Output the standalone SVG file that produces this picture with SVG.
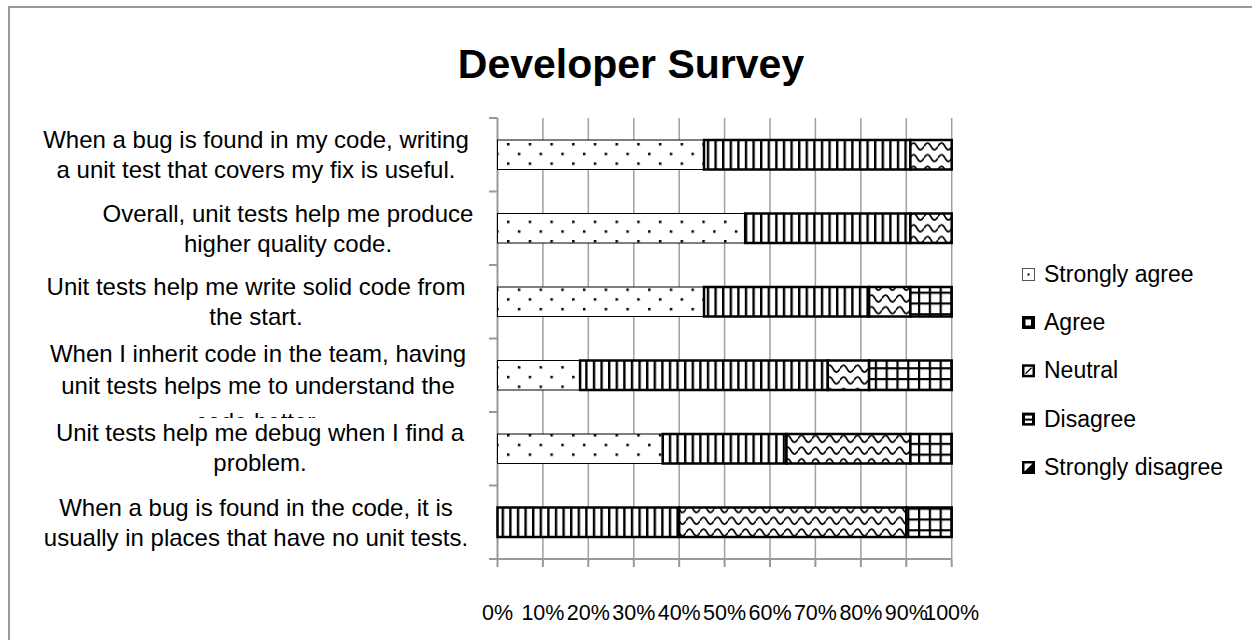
<svg xmlns="http://www.w3.org/2000/svg" width="1252" height="640" viewBox="0 0 1252 640">
<style>
  .lbl{font-family:"Liberation Sans",Arial,sans-serif;font-size:24px;fill:#000;text-anchor:middle}
  .tick{font-family:"Liberation Sans",Arial,sans-serif;font-size:21.5px;fill:#000;text-anchor:middle}
  .leg{font-family:"Liberation Sans",Arial,sans-serif;font-size:23px;fill:#000}
  .title{font-family:"Liberation Sans",Arial,sans-serif;font-size:41px;font-weight:bold;fill:#000;text-anchor:middle}
  .grid{stroke:#a0a0a0;stroke-width:1.5;fill:none}
  .axis{stroke:#999;stroke-width:2;fill:none}
  .sa{fill:url(#pSA);stroke:#000;stroke-width:1}
  .ag{fill:url(#pA);stroke:#000;stroke-width:2.5}
  .ne{fill:url(#pN);stroke:#000;stroke-width:2.5}
  .di{fill:url(#pD);stroke:#000;stroke-width:2.5}
</style>
<defs>
  <pattern id="pSA" patternUnits="userSpaceOnUse" x="507" y="143" width="21.7" height="19.4">
    <rect width="21.7" height="19.4" fill="#fff"/>
    <rect x="0" y="0" width="2.5" height="2.5" fill="#000"/>
    <rect x="10.85" y="9.7" width="2.5" height="2.5" fill="#000"/>
  </pattern>
  <pattern id="pA" patternUnits="userSpaceOnUse" x="0" y="0" width="7.6" height="10">
    <rect width="7.6" height="10" fill="#fff"/>
    <rect x="0" y="0" width="2.4" height="10" fill="#000"/>
  </pattern>
  <pattern id="pN" patternUnits="userSpaceOnUse" x="0" y="1.5" width="14" height="11.7">
    <rect width="14" height="11.7" fill="#fff"/>
    <path d="M0,4.5 C2.3,0 4.7,0 7,4.5 S11.7,9 14,4.5" fill="none" stroke="#000" stroke-width="1.7"/>
  </pattern>
  <pattern id="pD" patternUnits="userSpaceOnUse" x="0" y="0" width="10.8" height="10.8">
    <rect width="10.8" height="10.8" fill="#fff"/>
    <rect x="0" y="0" width="10.8" height="2.2" fill="#000"/>
    <rect x="0" y="0" width="2.2" height="10.8" fill="#000"/>
  </pattern>
  <clipPath id="clipRow4">
    <rect x="0" y="330" width="490" height="88"/>
  </clipPath>
</defs>

<rect x="0" y="0" width="1252" height="640" fill="#fff"/>
<rect id="chart-frame" x="9" y="7" width="1300" height="700" fill="#fff" stroke="#999" stroke-width="2"/>

<text class="title" x="631" y="78">Developer Survey</text>

<g id="gridlines">
  <path class="grid" d="M542.9,118V559M588.3,118V559M633.8,118V559M679.2,118V559M724.6,118V559M770,118V559M815.4,118V559M860.9,118V559M906.3,118V559M951.7,118V559"/>
</g>

<g id="axes">
  <path class="axis" d="M497.5,118V559H951.7"/>
  <path class="axis" d="M489,118H497.5M489,191.5H497.5M489,265H497.5M489,338.5H497.5M489,412H497.5M489,485.5H497.5M489,559H497.5"/>
  <path class="axis" d="M497.5,559V567M542.9,559V567M588.3,559V567M633.8,559V567M679.2,559V567M724.6,559V567M770,559V567M815.4,559V567M860.9,559V567M906.3,559V567M951.7,559V567"/>
</g>

<g id="x-labels">
  <text class="tick" x="497.5" y="620">0%</text>
  <text class="tick" x="542.9" y="620">10%</text>
  <text class="tick" x="588.3" y="620">20%</text>
  <text class="tick" x="633.8" y="620">30%</text>
  <text class="tick" x="679.2" y="620">40%</text>
  <text class="tick" x="724.6" y="620">50%</text>
  <text class="tick" x="770" y="620">60%</text>
  <text class="tick" x="815.4" y="620">70%</text>
  <text class="tick" x="860.9" y="620">80%</text>
  <text class="tick" x="906.3" y="620">90%</text>
  <text class="tick" x="951.7" y="620">100%</text>
</g>

<g id="row1">
  <text class="lbl" x="256" y="148">When a bug is found in my code, writing</text>
  <text class="lbl" x="256" y="178">a unit test that covers my fix is useful.</text>
  <rect class="sa" x="497.5" y="140" width="206.5" height="29.5"/>
  <rect class="ag" x="704" y="140" width="206.4" height="29.5"/>
  <rect class="ne" x="910.4" y="140" width="41.3" height="29.5"/>
</g>

<g id="row2">
  <text class="lbl" x="288" y="221.5">Overall, unit tests help me produce</text>
  <text class="lbl" x="288" y="251.5">higher quality code.</text>
  <rect class="sa" x="497.5" y="213.5" width="247.7" height="29.5"/>
  <rect class="ag" x="745.2" y="213.5" width="165.2" height="29.5"/>
  <rect class="ne" x="910.4" y="213.5" width="41.3" height="29.5"/>
</g>

<g id="row3">
  <text class="lbl" x="256" y="295">Unit tests help me write solid code from</text>
  <text class="lbl" x="256" y="325">the start.</text>
  <rect class="sa" x="497.5" y="287" width="206.5" height="29.5"/>
  <rect class="ag" x="704" y="287" width="165.1" height="29.5"/>
  <rect class="ne" x="869.1" y="287" width="41.3" height="29.5"/>
  <rect class="di" x="910.4" y="287" width="41.3" height="29.5"/>
</g>

<g id="row4">
  <g clip-path="url(#clipRow4)">
    <text class="lbl" x="258" y="362">When I inherit code in the team, having</text>
    <text class="lbl" x="258" y="394">unit tests helps me to understand the</text>
    <text class="lbl" x="258" y="430">code better.</text>
  </g>
  <rect class="sa" x="497.5" y="360.5" width="82.6" height="29.5"/>
  <rect class="ag" x="580.1" y="360.5" width="247.7" height="29.5"/>
  <rect class="ne" x="827.8" y="360.5" width="41.3" height="29.5"/>
  <rect class="di" x="869.1" y="360.5" width="82.6" height="29.5"/>
</g>

<g id="row5">
  <text class="lbl" x="260" y="441">Unit tests help me debug when I find a</text>
  <text class="lbl" x="260" y="471">problem.</text>
  <rect class="sa" x="497.5" y="434" width="165.2" height="29.5"/>
  <rect class="ag" x="662.7" y="434" width="123.8" height="29.5"/>
  <rect class="ne" x="786.5" y="434" width="123.9" height="29.5"/>
  <rect class="di" x="910.4" y="434" width="41.3" height="29.5"/>
</g>

<g id="row6">
  <text class="lbl" x="256" y="516">When a bug is found in the code, it is</text>
  <text class="lbl" x="256" y="546">usually in places that have no unit tests.</text>
  <rect class="ag" x="497.5" y="507.5" width="181.7" height="29.5"/>
  <rect class="ne" x="679.2" y="507.5" width="227.1" height="29.5"/>
  <rect class="di" x="906.3" y="507.5" width="45.4" height="29.5"/>
</g>

<g id="legend">
  <g id="leg-strongly-agree">
    <rect x="1022.5" y="268.5" width="12" height="12" fill="#fff" stroke="#555" stroke-width="1"/>
    <rect x="1027.5" y="273.5" width="2" height="2" fill="#000"/>
    <text class="leg" x="1044" y="281.7">Strongly agree</text>
  </g>
  <g id="leg-agree">
    <rect x="1022" y="316" width="13" height="13" fill="#000"/>
    <rect x="1025.5" y="319.5" width="5.5" height="6" fill="#fff"/>
    <text class="leg" x="1044" y="330">Agree</text>
  </g>
  <g id="leg-neutral">
    <rect x="1022" y="364.3" width="13" height="13" fill="#000"/>
    <rect x="1024.5" y="366.8" width="8" height="8" fill="#fff"/>
    <path d="M1025.5,373.8L1031.5,367.8" stroke="#000" stroke-width="1.3"/>
    <text class="leg" x="1044" y="378.3">Neutral</text>
  </g>
  <g id="leg-disagree">
    <rect x="1022" y="412.6" width="13" height="13" fill="#000"/>
    <rect x="1025" y="415.6" width="7" height="3" fill="#fff"/>
    <rect x="1025" y="420.6" width="7" height="2.5" fill="#fff"/>
    <text class="leg" x="1044" y="426.6">Disagree</text>
  </g>
  <g id="leg-strongly-disagree">
    <rect x="1022" y="461" width="13" height="13" fill="#000"/>
    <polygon points="1024.5,463.5 1032.5,463.5 1024.5,471.5" fill="#fff"/>
    <text class="leg" x="1044" y="475">Strongly disagree</text>
  </g>
</g>

<g id="connectors"/>
</svg>
